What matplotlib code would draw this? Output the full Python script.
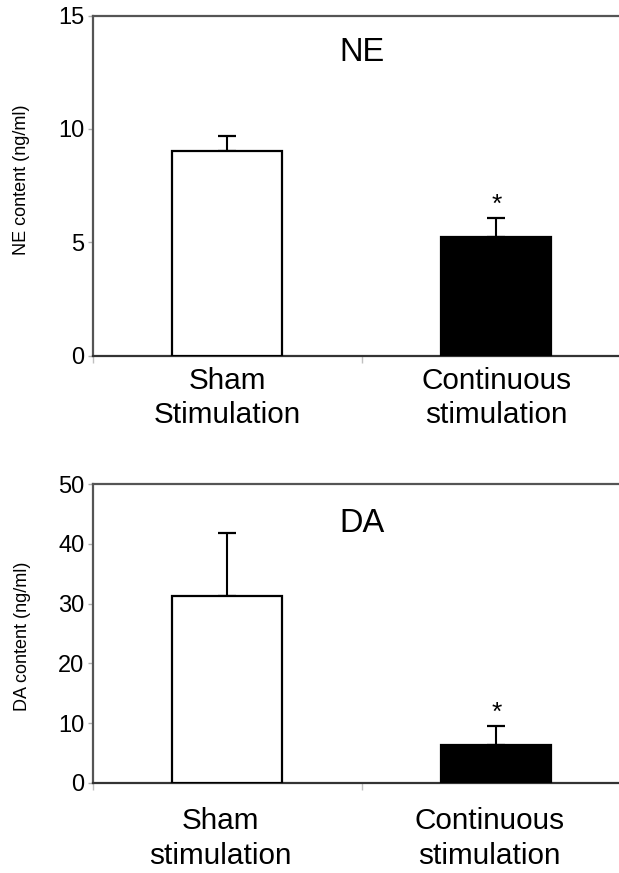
import matplotlib
matplotlib.use("Agg")
import matplotlib.pyplot as plt
import matplotlib.transforms as mtransforms
from matplotlib import font_manager

plt.rcParams['font.family'] = ['Liberation Sans', 'DejaVu Sans']

# ---------------- data ----------------
groups = ["Sham", "Continuous"]
ne_means = [9.03, 5.22]
ne_errs = [0.67, 0.86]
da_means = [31.2, 6.3]
da_errs = [10.6, 3.25]
bar_colors = ["white", "black"]
ne_xlabels = ["Sham\nStimulation", "Continuous\nstimulation"]
da_xlabels = ["Sham\nstimulation", "Continuous\nstimulation"]
ne_yticks = [0, 5, 10, 15]
da_yticks = [0, 10, 20, 30, 40, 50]
significant = [False, True]

W, H = 619, 873
fig = plt.figure(figsize=(W / 100, H / 100), dpi=100)

narrow = ['Liberation Sans Narrow', 'Liberation Sans', 'DejaVu Sans']
avail = {f.name for f in font_manager.fontManager.ttflist}
title_family = narrow if 'Liberation Sans Narrow' in avail else ['Liberation Sans', 'DejaVu Sans']


def px_axes(left, top, right, bottom):
    return [left / W, 1 - bottom / H, (right - left) / W, (bottom - top) / H]


def panel(rect, means, errs, xlabels, yticks, ymax, title, title_y, ylabel,
          ylabel_px, label_pad, label_shift_px):
    ax = fig.add_axes(rect)
    x = [0.5, 1.5]
    ax.bar(x, means, width=0.41, color=bar_colors, edgecolor="black",
           linewidth=1.6, zorder=3)
    ax.errorbar(x, means, yerr=[[0] * len(errs), errs], fmt="none",
                ecolor="black", elinewidth=1.5, capsize=6.8, capthick=1.6,
                zorder=2)
    for xi, m, e, s in zip(x, means, errs, significant):
        if s:
            ax.annotate("*", xy=(xi, m + e), xytext=(0, 4),
                        textcoords="offset points", ha="center",
                        va="baseline", fontsize=19)
    ax.set_xlim(0, 2)
    ax.set_ylim(0, ymax)
    ax.set_yticks(yticks)
    ax.set_yticklabels([str(t) for t in yticks], fontsize=17)
    ax.set_xticks(x)
    ax.set_xticklabels(xlabels, fontsize=21.4, linespacing=1.29)
    ax.set_xticks([0, 1, 2], minor=True)
    ax.tick_params(axis="x", which="major", length=0, pad=label_pad)
    ax.tick_params(axis="x", which="minor", length=5, width=1,
                   color="#c0c0c0", direction="out")
    ax.tick_params(axis="y", which="major", length=3.5, width=1,
                   color="#b0b0b0", direction="out", pad=2.6)
    for sp in ax.spines.values():
        sp.set_color("#555555")
        sp.set_linewidth(1.6)
    ax.spines["bottom"].set_color("#333333")
    if label_shift_px:
        off = mtransforms.ScaledTranslation(label_shift_px / 100, 0,
                                            fig.dpi_scale_trans)
        for lbl in ax.get_xticklabels():
            lbl.set_transform(lbl.get_transform() + off)
    ax.text(1.0, title_y, title, ha="center", va="baseline", fontsize=23.5,
            family=title_family)
    fig.text(ylabel_px[0] / W, 1 - ylabel_px[1] / H, ylabel, rotation=90,
             ha="center", va="center", fontsize=13)
    return ax


panel(px_axes(92.8, 15.7, 92.8 + 538, 355.5), ne_means, ne_errs, ne_xlabels,
      ne_yticks, 15, "NE", 13.0, "NE content (ng/ml)", (22, 180), 8.3, 0)
panel(px_axes(92.8, 484.3, 92.8 + 538, 782.7), da_means, da_errs, da_xlabels,
      da_yticks, 50, "DA", 42.0, "DA content (ng/ml)", (22.5, 636.7), 17.7, -7)

fig.savefig("out.png", dpi=100)
